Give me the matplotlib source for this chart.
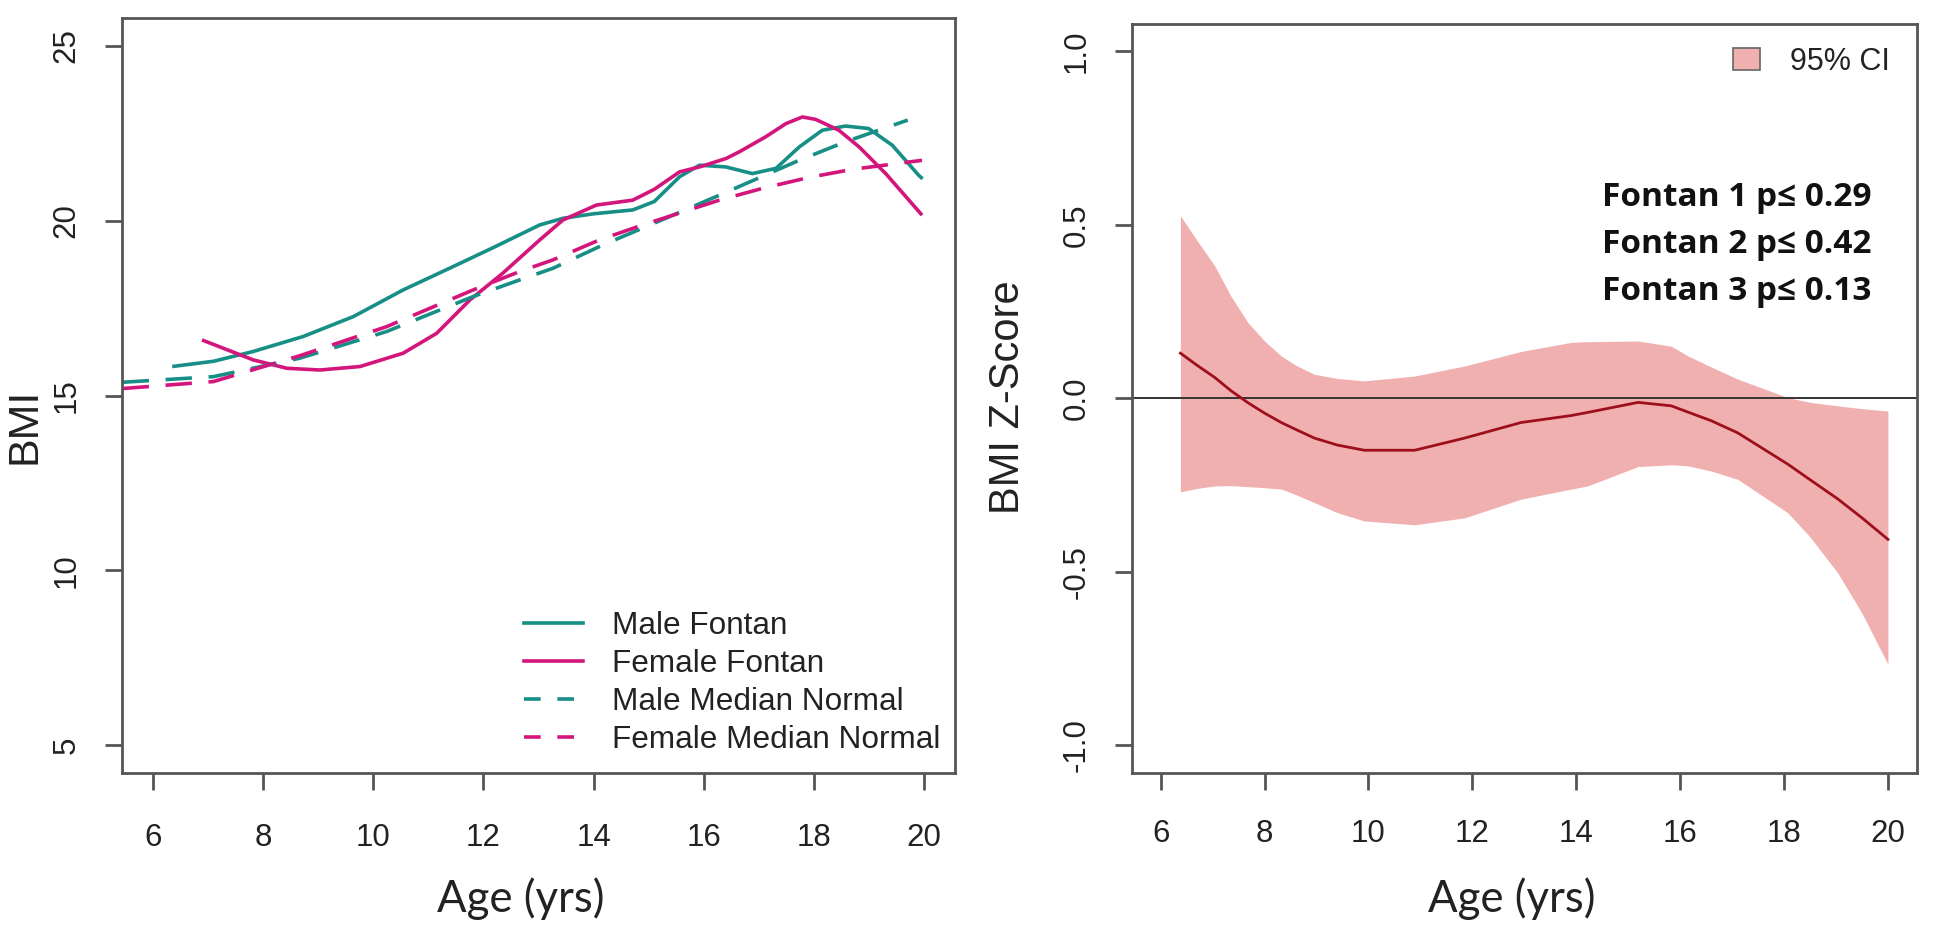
import matplotlib
matplotlib.use("Agg")
import matplotlib.pyplot as plt
from matplotlib.lines import Line2D
from matplotlib.patches import Patch

plt.rcParams['font.family'] = ['Liberation Sans', 'DejaVu Sans']
plt.rcParams['lines.scale_dashes'] = False

# ---------------- Data: left panel (BMI vs age) ----------------
male_fontan_age = [6.35, 7.1, 7.82, 8.73, 9.64, 10.54, 11.45, 12.2, 13.02, 13.44, 14.0, 14.71,
                   15.1, 15.56, 15.92, 16.4, 16.88, 17.31, 17.73, 18.15, 18.57, 18.99, 19.42, 19.9, 19.97]
male_fontan_bmi = [15.83, 15.98, 16.26, 16.69, 17.26, 18.02, 18.69, 19.25, 19.88, 20.07, 20.2, 20.31,
                   20.55, 21.26, 21.59, 21.54, 21.35, 21.5, 22.11, 22.59, 22.71, 22.64, 22.16, 21.3, 21.2]

female_fontan_age = [6.89, 7.82, 8.43, 9.03, 9.76, 10.54, 11.15, 11.75, 12.35, 13.02, 13.44, 14.05,
                     14.71, 15.1, 15.56, 15.92, 16.4, 16.64, 17.12, 17.49, 17.79, 18.03, 18.45, 18.82,
                     19.3, 19.96]
female_fontan_bmi = [16.59, 16.02, 15.78, 15.73, 15.83, 16.21, 16.78, 17.73, 18.5, 19.45, 20.02, 20.45,
                     20.59, 20.9, 21.4, 21.54, 21.78, 21.97, 22.4, 22.78, 22.97, 22.9, 22.59, 22.11,
                     21.35, 20.16]

male_normal_age = [5.45, 7.1, 8.67, 10.24, 11.81, 12.66, 13.26, 14.17, 14.95, 16.22, 17.73, 18.57, 19.7]
male_normal_bmi = [15.38, 15.54, 16.07, 16.83, 17.83, 18.31, 18.64, 19.31, 19.83, 20.69, 21.73, 22.26, 22.88]

female_normal_age = [5.45, 7.1, 8.67, 10.24, 11.81, 12.66, 13.26, 14.1, 14.89, 16.28, 17.07, 17.91, 18.69, 19.96]
female_normal_bmi = [15.2, 15.4, 16.14, 16.97, 18.02, 18.55, 18.88, 19.45, 19.88, 20.59, 20.93, 21.24, 21.47, 21.73]

series_labels = ["Male Fontan", "Female Fontan", "Male Median Normal", "Female Median Normal"]

# ---------------- Data: right panel (BMI Z-score vs age) ----------------
z_age   = [6.38, 6.7, 7.04, 7.35, 7.68, 8.0, 8.32, 8.6, 8.96, 9.4, 9.92, 10.89, 11.85, 12.94, 13.9,
           14.22, 15.19, 15.83, 16.15, 16.6, 17.11, 18.07, 18.5, 19.03, 19.5, 20.0]
z_fit   = [0.130, 0.095, 0.060, 0.022, -0.013, -0.043, -0.070, -0.090, -0.115, -0.135, -0.150,
           -0.150, -0.115, -0.070, -0.050, -0.041, -0.012, -0.022, -0.040, -0.065, -0.100, -0.190,
           -0.235, -0.290, -0.345, -0.407]
z_upper = [0.526, 0.455, 0.382, 0.295, 0.218, 0.165, 0.122, 0.095, 0.069, 0.057, 0.050, 0.064,
           0.093, 0.135, 0.161, 0.163, 0.165, 0.150, 0.122, 0.090, 0.055, 0.002, -0.012, -0.022,
           -0.030, -0.037]
z_lower = [-0.270, -0.260, -0.253, -0.252, -0.255, -0.258, -0.262, -0.278, -0.301, -0.330, -0.354,
           -0.365, -0.345, -0.291, -0.262, -0.253, -0.197, -0.192, -0.195, -0.210, -0.234, -0.330,
           -0.400, -0.503, -0.620, -0.767]

p_labels = ["Fontan 1 p\u2264 0.29", "Fontan 2 p\u2264 0.42", "Fontan 3 p\u2264 0.13"]

x_ticks = [6, 8, 10, 12, 14, 16, 18, 20]
bmi_ticks = [5, 10, 15, 20, 25]
z_ticks = [-1.0, -0.5, 0.0, 0.5, 1.0]
z_tick_labels = ["-1.0", "-0.5", "0.0", "0.5", "1.0"]

# ---------------- Styles ----------------
TEAL = "#178f86"
MAGENTA = "#d4157c"
FILL = "#f1b0b0"
DARKRED = "#9e0f1c"
AXC = "#555555"
DASH = (0, (19, 12))
TXT = '#222222'

fig = plt.figure(figsize=(19.5, 9.3), dpi=100)
ax1 = fig.add_axes([0.0626, 0.1688, 0.4272, 0.8118])
ax2 = fig.add_axes([0.5803, 0.1691, 0.4028, 0.8054])


def style_axes(ax, yt, ytl, xpad):
    for s in ax.spines.values():
        s.set_color(AXC)
        s.set_linewidth(2.0)
    ax.set_xticks(x_ticks)
    ax.set_xticklabels([str(t) for t in x_ticks])
    ax.set_yticks(yt)
    ax.set_yticklabels(ytl, rotation=90, va='center', ha='right')
    ax.tick_params(axis='both', direction='out', length=12, width=2, color=AXC,
                   labelsize=22.5, labelcolor=TXT)
    ax.tick_params(axis='x', pad=xpad)
    ax.tick_params(axis='y', pad=17)
    ax.set_xlim(5.44, 20.56)


# Left panel
ax1.plot(male_fontan_age, male_fontan_bmi, color=TEAL, lw=2.6, solid_capstyle='butt')
ax1.plot(female_fontan_age, female_fontan_bmi, color=MAGENTA, lw=2.6, solid_capstyle='butt')
ax1.plot(male_normal_age, male_normal_bmi, color=TEAL, lw=2.6, linestyle=DASH, dash_capstyle='butt')
ax1.plot(female_normal_age, female_normal_bmi, color=MAGENTA, lw=2.6, linestyle=DASH, dash_capstyle='butt')
ax1.set_ylim(4.2, 25.8)
style_axes(ax1, bmi_ticks, [str(t) for t in bmi_ticks], 24)

handles = [Line2D([], [], color=TEAL, lw=2.6),
           Line2D([], [], color=MAGENTA, lw=2.6),
           Line2D([], [], color=TEAL, lw=2.6, linestyle=(0, (12, 12))),
           Line2D([], [], color=MAGENTA, lw=2.6, linestyle=(0, (12, 12)))]
ax1.legend(handles, series_labels, loc='upper left', bbox_to_anchor=(0.482, 0.214),
           frameon=False, borderpad=0, borderaxespad=0, fontsize=22.7,
           handlelength=1.9, handletextpad=0.9, labelspacing=0.245, labelcolor=TXT)

ax1.set_ylabel("BMI", fontsize=31, color=TXT)
ax1.yaxis.label.set_va('center')
ax1.yaxis.set_label_coords(-0.117, 0.46)
ax1.set_xlabel("Age (yrs)", fontsize=31.5, family=['Lato', 'DejaVu Sans'], color=TXT)
ax1.xaxis.label.set_va('baseline')
ax1.xaxis.set_label_coords(0.478, -0.184)

# Right panel
ax2.fill_between(z_age, z_lower, z_upper, color=FILL, lw=0)
ax2.axhline(0, color='#333333', lw=1.4)
ax2.plot(z_age, z_fit, color=DARKRED, lw=2.0)
ax2.set_ylim(-1.08, 1.08)
style_axes(ax2, z_ticks, z_tick_labels, 21)

ax2.legend([Patch(facecolor=FILL, edgecolor='#666666', lw=1.2)], ["95% CI"],
           loc='upper left', bbox_to_anchor=(0.7657, 0.969), frameon=False,
           borderpad=0, borderaxespad=0, fontsize=22, handlelength=0.88,
           handleheight=0.72, handletextpad=0.98, labelcolor=TXT)

p_y = [0.7566, 0.6939, 0.6311]
for lab, yy in zip(p_labels, p_y):
    ax2.text(0.9423, yy, lab, transform=ax2.transAxes, ha='right', va='baseline',
             fontsize=24, fontweight='bold', family=['Open Sans', 'DejaVu Sans'], color='#111111')

ax2.set_ylabel("BMI Z-Score", fontsize=30, color=TXT)
ax2.yaxis.label.set_va('center')
ax2.yaxis.set_label_coords(-0.157, 0.501)
ax2.set_xlabel("Age (yrs)", fontsize=31.5, family=['Lato', 'DejaVu Sans'], color=TXT)
ax2.xaxis.label.set_va('baseline')
ax2.xaxis.set_label_coords(0.484, -0.186)

fig.savefig("out.png", dpi=100)
